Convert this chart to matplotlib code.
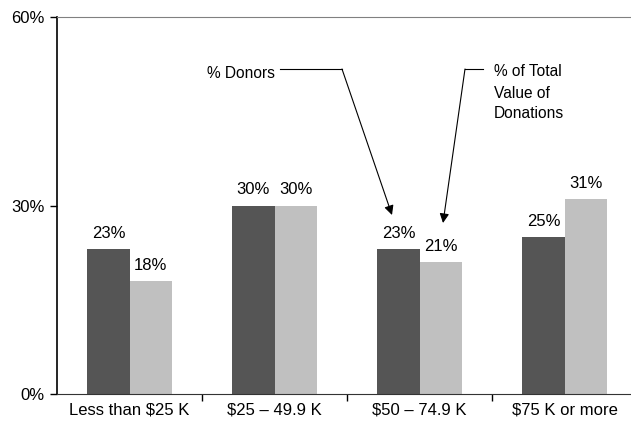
import matplotlib.pyplot as plt
import numpy as np

plt.rcParams['font.family'] = ['Liberation Sans', 'DejaVu Sans']

categories = ['Less than $25 K', '$25 \u2013 49.9 K', '$50 \u2013 74.9 K', '$75 K or more']
donors = [23, 30, 23, 25]
value_share = [18, 30, 21, 31]

W, H = 631, 425
fs = 12
fig = plt.figure(figsize=(W / 100, H / 100), dpi=100)
ax = fig.add_axes([57 / W, 31 / H, 580 / W, 377 / H])

x = np.arange(len(categories))
bw = 0.29
b1 = ax.bar(x - bw / 2, donors, bw, color='#555555', zorder=2)
b2 = ax.bar(x + bw / 2, value_share, bw, color='#c0c0c0', zorder=2)

for bars, vals in [(b1, donors), (b2, value_share)]:
    for r, v in zip(bars, vals):
        ax.text(r.get_x() + r.get_width() / 2, v + 1.3, f'{v}%',
                ha='center', va='bottom', fontsize=fs)

ax.set_xlim(-0.5, 3.5)
ax.set_ylim(0, 60)
ax.set_yticks([0, 30, 60])
ax.set_yticklabels(['0%', '30%', '60%'], fontsize=fs)
ax.set_xticks([0.5, 1.5, 2.5], minor=False)
ax.set_xticklabels([])
ax.set_xticks(x, minor=True)
ax.set_xticklabels(categories, minor=True, fontsize=fs)
ax.tick_params(axis='x', which='minor', length=0, pad=6)
ax.tick_params(axis='x', which='major', length=5, width=1)
ax.tick_params(axis='y', length=5, width=1, pad=4)

ax.spines['right'].set_visible(False)
ax.spines['top'].set_color('#808080')
ax.spines['left'].set_linewidth(1.2)
ax.spines['bottom'].set_color('#333333')


def fp(px, py):
    return (px / W, 1 - py / H)


lc = 'black'
cfs = 11.2
# % Donors callout
fig.text(*fp(207, 73), '% Donors', ha='left', va='center', fontsize=cfs)
fig.add_artist(plt.Line2D([280 / W, 342 / W], [1 - 69 / H, 1 - 69 / H], color=lc, lw=0.8))
ax.annotate('', xy=fp(392, 215), xycoords='figure fraction',
            xytext=fp(342, 69), textcoords='figure fraction',
            arrowprops=dict(arrowstyle='-|>', color=lc, lw=0.8,
                            mutation_scale=14, shrinkA=0, shrinkB=0))

# % of Total Value callout
fig.text(*fp(494, 93), '% of Total\nValue of\nDonations', ha='left', va='center',
         fontsize=cfs, linespacing=1.5)
fig.add_artist(plt.Line2D([465 / W, 483 / W], [1 - 69 / H, 1 - 69 / H], color=lc, lw=0.8))
ax.annotate('', xy=fp(443, 223), xycoords='figure fraction',
            xytext=fp(465, 69), textcoords='figure fraction',
            arrowprops=dict(arrowstyle='-|>', color=lc, lw=0.8,
                            mutation_scale=14, shrinkA=0, shrinkB=0))

fig.savefig('out.png', dpi=100)
